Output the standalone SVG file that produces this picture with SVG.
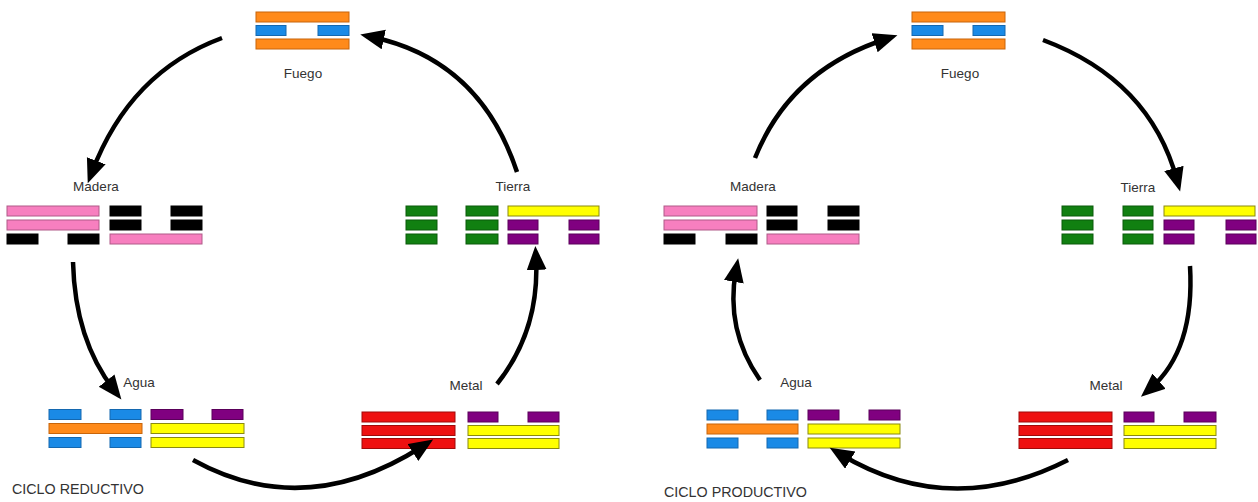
<svg xmlns="http://www.w3.org/2000/svg" width="1258" height="502" viewBox="0 0 1258 502">
<style>
.o{fill:#ff8a1a;stroke:#c8650a;stroke-width:1}
.b{fill:#1a8ae6;stroke:#1468b0;stroke-width:1}
.p{fill:#f77fbf;stroke:#b05a88;stroke-width:1}
.k{fill:#000;stroke:#000;stroke-width:1}
.g{fill:#118011;stroke:#0a5a0a;stroke-width:1}
.y{fill:#ffff00;stroke:#8a8a10;stroke-width:1}
.v{fill:#800080;stroke:#5a005a;stroke-width:1}
.r{fill:#ee1111;stroke:#a00a0a;stroke-width:1}
text{font-family:"Liberation Sans",Arial,sans-serif;font-size:13.5px;fill:#333}
.lbl{text-anchor:middle}
.cap{font-size:14.3px}
.arr{fill:none;stroke:#000;stroke-width:4.5}
</style>
<defs>
<marker id="ah" markerUnits="userSpaceOnUse" markerWidth="26" markerHeight="22" refX="12" refY="10" orient="auto">
<path d="M0,0 L24,10 L0,20 z" fill="#000"/>
</marker>
</defs>
<rect width="1258" height="502" fill="#fff"/>

<!-- LEFT: CICLO REDUCTIVO -->
<g id="fuego-l">
<rect class="o" x="256" y="12" width="93" height="10"/>
<rect class="b" x="256" y="25.5" width="30" height="10"/>
<rect class="b" x="318" y="25.5" width="31" height="10"/>
<rect class="o" x="256" y="39" width="93" height="10"/>
<text class="lbl" x="303" y="78">Fuego</text>
</g>
<g id="madera-l">
<text class="lbl" x="96" y="191">Madera</text>
<rect class="p" x="7" y="206" width="92" height="10"/>
<rect class="p" x="7" y="220" width="92" height="10"/>
<rect class="k" x="7" y="234" width="31" height="10"/>
<rect class="k" x="68" y="234" width="31" height="10"/>
<rect class="k" x="110" y="206" width="31" height="10"/>
<rect class="k" x="171" y="206" width="31" height="10"/>
<rect class="k" x="110" y="220" width="31" height="10"/>
<rect class="k" x="171" y="220" width="31" height="10"/>
<rect class="p" x="110" y="234" width="92" height="10"/>
</g>
<g id="tierra-l">
<text class="lbl" x="513" y="191">Tierra</text>
<rect class="g" x="406" y="206" width="31" height="10"/>
<rect class="g" x="406" y="220" width="31" height="10"/>
<rect class="g" x="406" y="234" width="31" height="10"/>
<rect class="g" x="466" y="206" width="32" height="10"/>
<rect class="g" x="466" y="220" width="32" height="10"/>
<rect class="g" x="466" y="234" width="32" height="10"/>
<rect class="y" x="508" y="206" width="91" height="10"/>
<rect class="v" x="508" y="220" width="30" height="10"/>
<rect class="v" x="569" y="220" width="30" height="10"/>
<rect class="v" x="508" y="234" width="30" height="10"/>
<rect class="v" x="569" y="234" width="30" height="10"/>
</g>
<g id="agua-l">
<text class="lbl" x="139" y="387">Agua</text>
<rect class="b" x="49" y="409.5" width="32" height="10"/>
<rect class="b" x="110" y="409.5" width="31" height="10"/>
<rect class="o" x="49" y="423.5" width="93" height="10"/>
<rect class="b" x="49" y="437.5" width="32" height="10"/>
<rect class="b" x="110" y="437.5" width="31" height="10"/>
<rect class="v" x="151" y="409.5" width="32" height="10"/>
<rect class="v" x="212" y="409.5" width="31" height="10"/>
<rect class="y" x="151" y="423.5" width="93" height="10"/>
<rect class="y" x="151" y="437.5" width="93" height="10"/>
</g>
<g id="metal-l">
<text class="lbl" x="466" y="390">Metal</text>
<rect class="r" x="362" y="412" width="93" height="10"/>
<rect class="r" x="362" y="425.5" width="93" height="10"/>
<rect class="r" x="362" y="438.5" width="93" height="10"/>
<rect class="v" x="468" y="412" width="30" height="10"/>
<rect class="v" x="528" y="412" width="31" height="10"/>
<rect class="y" x="468" y="425.5" width="91" height="10"/>
<rect class="y" x="468" y="438.5" width="91" height="10"/>
</g>
<text class="cap" x="12" y="494">CICLO REDUCTIVO</text>

<!-- RIGHT: CICLO PRODUCTIVO -->
<g id="fuego-r">
<rect class="o" x="912" y="12" width="93" height="10"/>
<rect class="b" x="912" y="25.5" width="31" height="10"/>
<rect class="b" x="973" y="25.5" width="32" height="10"/>
<rect class="o" x="912" y="39" width="93" height="10"/>
<text class="lbl" x="960" y="78">Fuego</text>
</g>
<g id="madera-r">
<text class="lbl" x="753" y="191">Madera</text>
<rect class="p" x="664" y="206" width="93" height="10"/>
<rect class="p" x="664" y="220" width="93" height="10"/>
<rect class="k" x="664" y="234" width="31" height="10"/>
<rect class="k" x="726" y="234" width="31" height="10"/>
<rect class="k" x="767" y="206" width="30" height="10"/>
<rect class="k" x="828" y="206" width="31" height="10"/>
<rect class="k" x="767" y="220" width="30" height="10"/>
<rect class="k" x="828" y="220" width="31" height="10"/>
<rect class="p" x="767" y="234" width="92" height="10"/>
</g>
<g id="tierra-r">
<text class="lbl" x="1138" y="192">Tierra</text>
<rect class="g" x="1062" y="206" width="31" height="10"/>
<rect class="g" x="1062" y="220" width="31" height="10"/>
<rect class="g" x="1062" y="234" width="31" height="10"/>
<rect class="g" x="1123" y="206" width="30" height="10"/>
<rect class="g" x="1123" y="220" width="30" height="10"/>
<rect class="g" x="1123" y="234" width="30" height="10"/>
<rect class="y" x="1164" y="206" width="91" height="10"/>
<rect class="v" x="1164" y="220" width="30" height="10"/>
<rect class="v" x="1226" y="220" width="30" height="10"/>
<rect class="v" x="1164" y="234" width="30" height="10"/>
<rect class="v" x="1226" y="234" width="30" height="10"/>
</g>
<g id="agua-r">
<text class="lbl" x="796" y="387">Agua</text>
<rect class="b" x="707" y="410" width="31" height="10"/>
<rect class="b" x="767" y="410" width="31" height="10"/>
<rect class="o" x="707" y="424" width="91" height="10"/>
<rect class="b" x="707" y="438" width="31" height="10"/>
<rect class="b" x="767" y="438" width="31" height="10"/>
<rect class="v" x="808" y="410" width="31" height="10"/>
<rect class="v" x="869" y="410" width="31" height="10"/>
<rect class="y" x="808" y="424" width="92" height="10"/>
<rect class="y" x="808" y="438" width="92" height="10"/>
</g>
<g id="metal-r">
<text class="lbl" x="1106" y="390">Metal</text>
<rect class="r" x="1019" y="412" width="93" height="10"/>
<rect class="r" x="1019" y="425.5" width="93" height="10"/>
<rect class="r" x="1019" y="438.5" width="93" height="10"/>
<rect class="v" x="1124" y="412" width="30" height="10"/>
<rect class="v" x="1184" y="412" width="32" height="10"/>
<rect class="y" x="1124" y="425.5" width="92" height="10"/>
<rect class="y" x="1124" y="438.5" width="92" height="10"/>
</g>
<text class="cap" x="664" y="497">CICLO PRODUCTIVO</text>

<g id="connectors">
<path class="arr" marker-end="url(#ah)" d="M222,38 Q130,72 92,172"/>
<path class="arr" marker-end="url(#ah)" d="M73,262 Q75,340 114,390"/>
<path class="arr" marker-end="url(#ah)" d="M193,460 Q305,522 423,446"/>
<path class="arr" marker-end="url(#ah)" d="M497,384 Q540,330 536,258"/>
<path class="arr" marker-end="url(#ah)" d="M517,172 Q480,60 372,37"/>

<path class="arr" marker-end="url(#ah)" d="M755,158 Q790,70 886,39"/>
<path class="arr" marker-end="url(#ah)" d="M1043,40 Q1150,80 1177,180"/>
<path class="arr" marker-end="url(#ah)" d="M1190,266 Q1195,350 1150,389"/>
<path class="arr" marker-end="url(#ah)" d="M1068,460 Q950,520 840,454"/>
<path class="arr" marker-end="url(#ah)" d="M760,380 Q725,330 736,270"/>
</g>
</svg>
